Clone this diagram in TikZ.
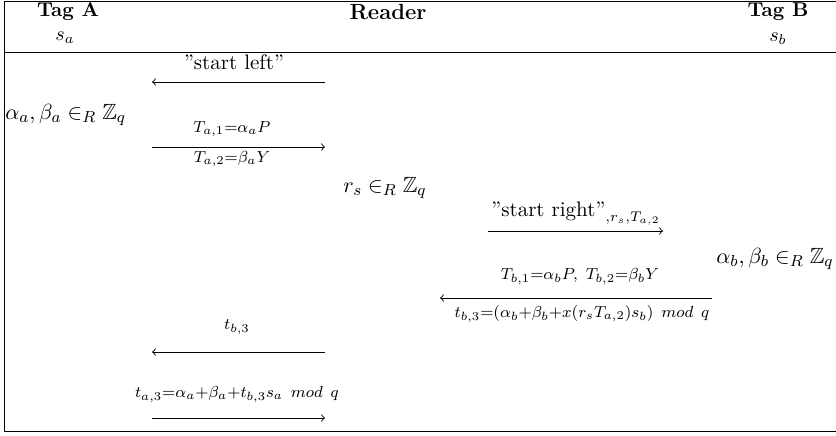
\documentclass[tikz,border=0pt]{standalone}
\usepackage{amsmath,amssymb}
\begin{document}
\begin{tikzpicture}[x=0.5pt,y=-0.5pt,
  rule/.style={line width=0.5pt},
  msg/.style={->, line width=0.45pt},
  txt/.style={inner sep=0pt, font=\fontsize{11}{13}\selectfont},
  stxt/.style={inner sep=0pt, font=\fontsize{10.5}{12.5}\selectfont},
  lbl/.style={inner sep=0pt, font=\fontsize{12}{14}\selectfont},
  head/.style={inner sep=0pt, font=\bfseries}]
\useasboundingbox (0,0) rectangle (836,435);
% frame
\coordinate (tl) at (4,1);
\coordinate (tr) at (836,1);
\coordinate (ml) at (4,52);
\coordinate (mr) at (836,52);
\coordinate (bl) at (4,431);
\coordinate (br) at (836,431);
\draw[rule] (tr) -- (tl) -- (bl) -- (br);
\draw[rule] (ml) -- (mr);
% header
\node[head] (tagA) at (68,12) {Tag A};
\node[head, font=\fontsize{11}{13}\selectfont\bfseries] (reader) at (388,12) {Reader};
\node[head] (tagB) at (778,12) {Tag B};
\node[inner sep=0pt] (sa) at (65,38) {$s_a$};
\node[inner sep=0pt] (sb) at (778,39) {$s_b$};
% step 1
\node[stxt] (l1) at (234,62) {''start left''};
\coordinate (a1s) at (325,82);
\coordinate (a1e) at (152,82);
\draw[msg] (a1s) -- (a1e);
% tag A random
\node[txt, anchor=west] (ra) at (5,115) {$\alpha_a,\beta_a\in_R\mathbb{Z}_q$};
% step 2
\node[lbl] (l2a) at (232,129) {$\scriptstyle T_{a,1}=\alpha_aP$};
\coordinate (a2s) at (152,147);
\coordinate (a2e) at (325,147);
\draw[msg] (a2s) -- (a2e);
\node[lbl] (l2b) at (232,159) {$\scriptstyle T_{a,2}=\beta_aY$};
% reader random
\node[txt, anchor=west] (rr) at (343,188) {$r_s\in_R\mathbb{Z}_q$};
% step 3
\node[stxt] (l3) at (576,214) {$\text{''start right''}_{,r_s,T_{a,2}}$};
\coordinate (a3s) at (488,231);
\coordinate (a3e) at (663,231);
\draw[msg] (a3s) -- (a3e);
% tag B random
\node[txt, anchor=east] (rb) at (834,259) {$\alpha_b,\beta_b\in_R\mathbb{Z}_q$};
% step 4
\node[lbl] (l4a) at (580,277) {$\scriptstyle T_{b,1}=\alpha_bP,\ T_{b,2}=\beta_bY$};
\coordinate (a4s) at (712,298);
\coordinate (a4e) at (440,298);
\draw[msg] (a4s) -- (a4e);
\node[lbl] (l4b) at (582,314) {$\scriptstyle t_{b,3}=(\alpha_b+\beta_b+x(r_sT_{a,2})s_b)\ mod\ q$};
% step 5
\node[lbl] (l5) at (237,327) {$\scriptstyle t_{b,3}$};
\coordinate (a5s) at (325,352);
\coordinate (a5e) at (152,352);
\draw[msg] (a5s) -- (a5e);
% step 6
\node[lbl] (l6) at (237,395) {$\scriptstyle t_{a,3}=\alpha_a+\beta_a+t_{b,3}s_a\ mod\ q$};
\coordinate (a6s) at (152,418);
\coordinate (a6e) at (325,418);
\draw[msg] (a6s) -- (a6e);
\end{tikzpicture}
\end{document}
